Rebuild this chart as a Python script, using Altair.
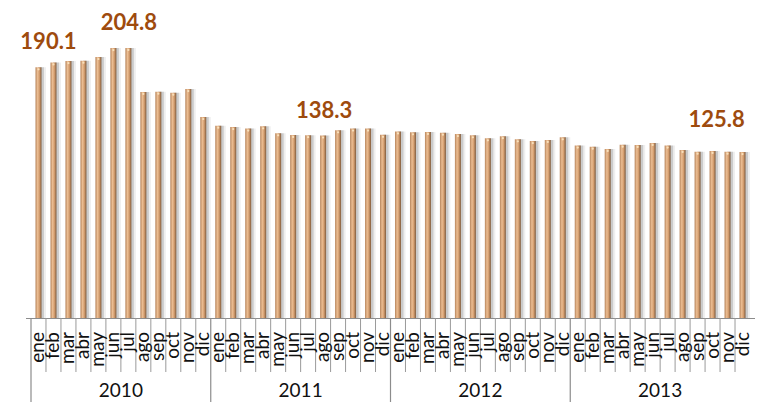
import altair as alt
import pandas as pd

months = ["ene", "feb", "mar", "abr", "may", "jun", "jul", "ago", "sep", "oct", "nov", "dic"]
years = ["2010", "2011", "2012", "2013"]

values_2010 = [190.1, 193.8, 194.8, 195.1, 197.9, 204.7, 204.8, 171.4, 171.6, 170.8, 173.6, 152.4]
values_2011 = [145.8, 144.8, 143.6, 145.3, 140.0, 138.8, 138.6, 138.3, 142.3, 143.6, 143.6, 138.9]
values_2012 = [141.5, 140.8, 141.1, 140.5, 139.5, 138.5, 136.2, 137.9, 135.5, 134.2, 135.0, 137.0]
values_2013 = [130.7, 129.9, 128.2, 131.4, 131.2, 132.7, 130.7, 127.4, 126.1, 126.7, 126.1, 125.8]

# labelled points: (index in series, label text)
label_idx = [0, 6, 19, 47]
label_txt = ["190.1", "204.8", "138.3", "125.8"]

all_vals = values_2010 + values_2011 + values_2012 + values_2013
n = len(all_vals)
df = pd.DataFrame({
    "idx": list(range(n)),
    "month": [months[i % 12] for i in range(n)],
    "value": all_vals,
})
year_df = pd.DataFrame({"year": years, "center": [12 * j + 5.5 for j in range(len(years))]})
month_sep = pd.DataFrame({"b": [k - 0.5 for k in range(n + 1) if k % 12 != 0]})
year_sep = pd.DataFrame({"b": [12 * j - 0.5 for j in range(len(years))]})

W, H = 729, 304
LEFT, TOP, BOTTOM = 18, 6, 84
xs = alt.Scale(domain=[-0.5, n - 0.5], nice=False, zero=False)
ys = alt.Scale(domain=[0, 230.5], nice=False)
X = alt.X("idx:Q", scale=xs, axis=None)
Y = alt.Y("value:Q", scale=ys, axis=None)

base = alt.Chart(df)

shadow = base.mark_bar(size=6, orient="vertical", color="#8a8a8a", opacity=0.35, xOffset=2.5).encode(x=X, y=Y)
shadow2 = base.mark_bar(size=8, orient="vertical", color="#b0b0b0", opacity=0.2, xOffset=3.5).encode(x=X, y=Y)

grad = alt.LinearGradient(
    gradient="linear", x1=0, x2=1, y1=0, y2=0,
    stops=[
        alt.GradientStop(offset=0, color="#b5835a"),
        alt.GradientStop(offset=0.35, color="#ebbd92"),
        alt.GradientStop(offset=0.65, color="#d49d6e"),
        alt.GradientStop(offset=1, color="#7d5a3c"),
    ],
)
bars = base.mark_bar(size=6, orient="vertical", color=grad).encode(x=X, y=Y)
tops = base.mark_point(filled=True, size=5, color="#fbe6c2", opacity=0.9, yOffset=2).encode(x=X, y=Y)

axis_line = alt.Chart(pd.DataFrame({"a": [0]})).mark_rule(color="#8c8c8c", strokeWidth=1).encode(
    x=alt.value(0), x2=alt.value(W), y=alt.value(H + 0.5)
)
msep = alt.Chart(month_sep).mark_rule(color="#9a9a9a", strokeWidth=1).encode(
    x=alt.X("b:Q", scale=xs, axis=None), y=alt.value(H), y2=alt.value(H + 54)
)
ysep = alt.Chart(year_sep).mark_rule(color="#8c8c8c", strokeWidth=1.2).encode(
    x=alt.X("b:Q", scale=xs, axis=None), y=alt.value(H), y2=alt.value(H + BOTTOM)
)

mlabels = base.mark_text(
    angle=270, align="right", baseline="middle", font="Lato", fontSize=19, color="#111111"
).encode(x=X, y=alt.value(H + 14), text="month:N")

ylabels = alt.Chart(year_df).mark_text(
    baseline="middle", align="center", font="Lato", fontSize=19, color="#111111"
).encode(x=alt.X("center:Q", scale=xs, axis=None), y=alt.value(H + 73), text="year:N")

label_offsets = [(10, -18.5), (0.5, -18), (1, -18), (-26, -25.5)]
val_layers = []
for (i, t), (dx, dy) in zip(zip(label_idx, label_txt), label_offsets):
    sub = pd.DataFrame({"idx": [i], "value": [all_vals[i]], "t": [t]})
    val_layers.append(
        alt.Chart(sub).mark_text(
            font="Lato", fontWeight="bold", fontSize=22, color="#9E4B0E",
            align="center", baseline="alphabetic", dx=dx, dy=dy
        ).encode(x=X, y=Y, text="t:N")
    )

chart = alt.layer(
    shadow2, shadow, bars, tops, axis_line, msep, ysep, mlabels, ylabels, *val_layers
).properties(
    width=W, height=H,
    autosize=alt.AutoSizeParams(type="none"),
    padding={"left": LEFT, "top": TOP, "right": 0, "bottom": BOTTOM},
    background="white",
).configure_view(strokeWidth=0)

chart.save("out.html", embed_options={"renderer": "svg", "actions": False})
